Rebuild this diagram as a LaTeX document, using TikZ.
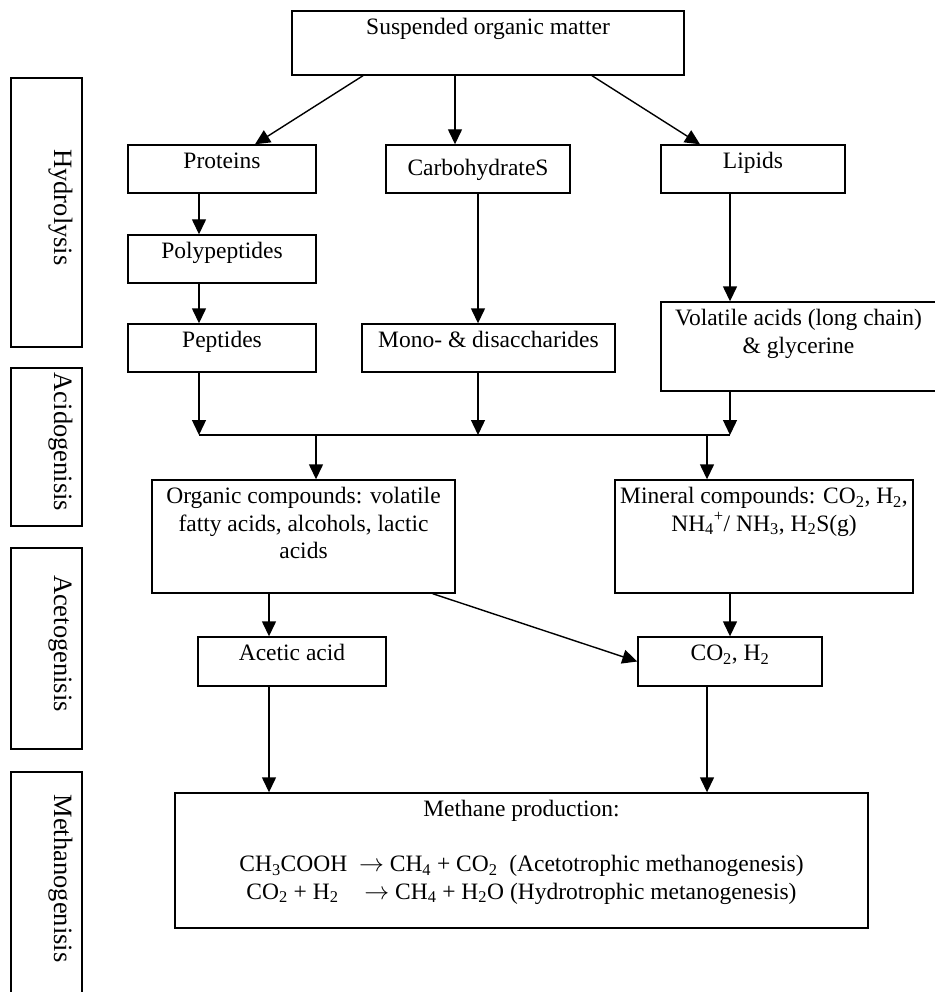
\documentclass[tikz,border=0pt]{standalone}
\usepackage{fontspec}
\setmainfont{Liberation Serif}
\usetikzlibrary{arrows.meta}

% top aligned text inside a box of fixed size
\newcommand{\boxtext}[4][23.5pt]{\parbox[c][#3][t]{#2}{\centering\rule{0pt}{#1}#4\par}}

\begin{document}
\begin{tikzpicture}[x=1pt, y=-1pt,
	every node/.style={font=\fontsize{23.5}{27.5}\selectfont},
	box/.style={draw, line width=1.4pt, inner sep=0pt},
	phase/.style={draw, line width=1.4pt, inner sep=0pt, rotate=-90,
		font=\fontsize{26.5}{30}\selectfont},
	arr/.style={line width=1.4pt, -{Triangle[width=14pt,length=15pt]}}]
	\useasboundingbox (0,0) rectangle (934,992);

	% phases on the left
	\node[phase] (hyd) at (46.5,212.5) {\boxtext[28pt]{269pt}{71pt}{Hydrolysis\hspace*{10pt}}};
	\node[phase] (acid) at (46.5,447) {\boxtext[28pt]{158pt}{71pt}{Acidogenisis\hspace*{10pt}}};
	\node[phase] (aceto) at (46.5,648.5) {\boxtext[28pt]{201pt}{71pt}{Acetogenisis\hspace*{10pt}}};
	\node[phase] (methano) at (46.5,883.5) {\boxtext[28pt]{223pt}{71pt}{Methanogenisis\hspace*{10pt}}};

	% hydrolysis
	\node[box] (som) at (488,43) {\boxtext{392pt}{64pt}{Suspended organic matter}};
	\node[box] (prot) at (222,169) {\boxtext{188pt}{48pt}{Proteins}};
	\node[box] (carb) at (478,169) {\boxtext[31pt]{184pt}{48pt}{CarbohydrateS}};
	\node[box] (lip) at (753,169) {\boxtext{184pt}{48pt}{Lipids}};
	\node[box] (poly) at (222,259) {\boxtext{188pt}{48pt}{Polypeptides}};
	\node[box] (pep) at (222,348) {\boxtext{188pt}{48pt}{Peptides}};
	\node[box] (mono) at (488.5,348) {\boxtext{253pt}{48pt}{Mono- \& disaccharides}};
	\node[box] (vol) at (798.5,346.5) {\boxtext{275pt}{89pt}{Volatile acids (long chain)\\ \& glycerine}};

	% acidogenesis
	\node[box] (org) at (303.5,536.5) {\boxtext{303pt}{113pt}{Organic compounds: volatile\\ fatty acids, alcohols, lactic\\ acids}};
	\node[box] (min) at (764,536.5) {\boxtext{298pt}{113pt}{Mineral compounds: CO\textsubscript{2}, H\textsubscript{2},\\ NH\textsubscript{4}\textsuperscript{+}/ NH\textsubscript{3}, H\textsubscript{2}S(g)}};

	% acetogenesis
	\node[box] (acet) at (292,661.5) {\boxtext{188pt}{49pt}{Acetic acid}};
	\node[box] (co2) at (730,661.5) {\boxtext{184pt}{49pt}{CO\textsubscript{2}, H\textsubscript{2}}};

	% methanogenesis
	\node[box] (meth) at (521.5,860.5) {\boxtext{693pt}{135pt}{Methane production:\\[27.5pt]
		CH\textsubscript{3}COOH\ \ $\rightarrow$ CH\textsubscript{4} + CO\textsubscript{2}\ \ (Acetotrophic methanogenesis)\\
		CO\textsubscript{2} + H\textsubscript{2}\hspace{1.1em}$\rightarrow$ CH\textsubscript{4} + H\textsubscript{2}O (Hydrotrophic metanogenesis)}};

	% collecting line
	\coordinate (jl) at (199,435);
	\coordinate (jm) at (478,435);
	\coordinate (jr) at (730,435);
	\coordinate (jo) at (316,435);
	\coordinate (jn) at (707,435);

	\draw[arr] ([xshift=-125pt]som.south) -- ([xshift=33pt]prot.north);
	\draw[arr] ([xshift=-33pt]som.south) -- ([xshift=-23pt]carb.north);
	\draw[arr] ([xshift=104pt]som.south) -- ([xshift=-53pt]lip.north);
	\draw[arr] ([xshift=-23pt]prot.south) -- ([xshift=-23pt]poly.north);
	\draw[arr] ([xshift=-23pt]poly.south) -- ([xshift=-23pt]pep.north);
	\draw[arr] (carb.south) -- (carb.south |- mono.north);
	\draw[arr] ([xshift=-23pt]lip.south) -- ([xshift=-23pt]lip.south |- vol.north);
	\draw[arr] ([xshift=-23pt]pep.south) -- (jl);
	\draw[arr] (mono.south -| jm) -- (jm);
	\draw[arr] (vol.south -| jr) -- (jr);
	\draw[line width=1.4pt] (jl) -- (jr);
	\draw[arr] (jo) -- (jo |- org.north);
	\draw[arr] (jn) -- (jn |- min.north);
	\draw[arr] ([xshift=-23pt]acet.north |- org.south) -- ([xshift=-23pt]acet.north);
	\draw[arr] ([xshift=-23pt]org.south east) -- (co2.west);
	\draw[arr] (min.south -| co2) -- (co2.north);
	\draw[arr] ([xshift=-23pt]acet.south) -- ([xshift=-23pt]acet.south |- meth.north);
	\draw[arr] ([xshift=-23pt]co2.south) -- ([xshift=-23pt]co2.south |- meth.north);
\end{tikzpicture}
\end{document}
